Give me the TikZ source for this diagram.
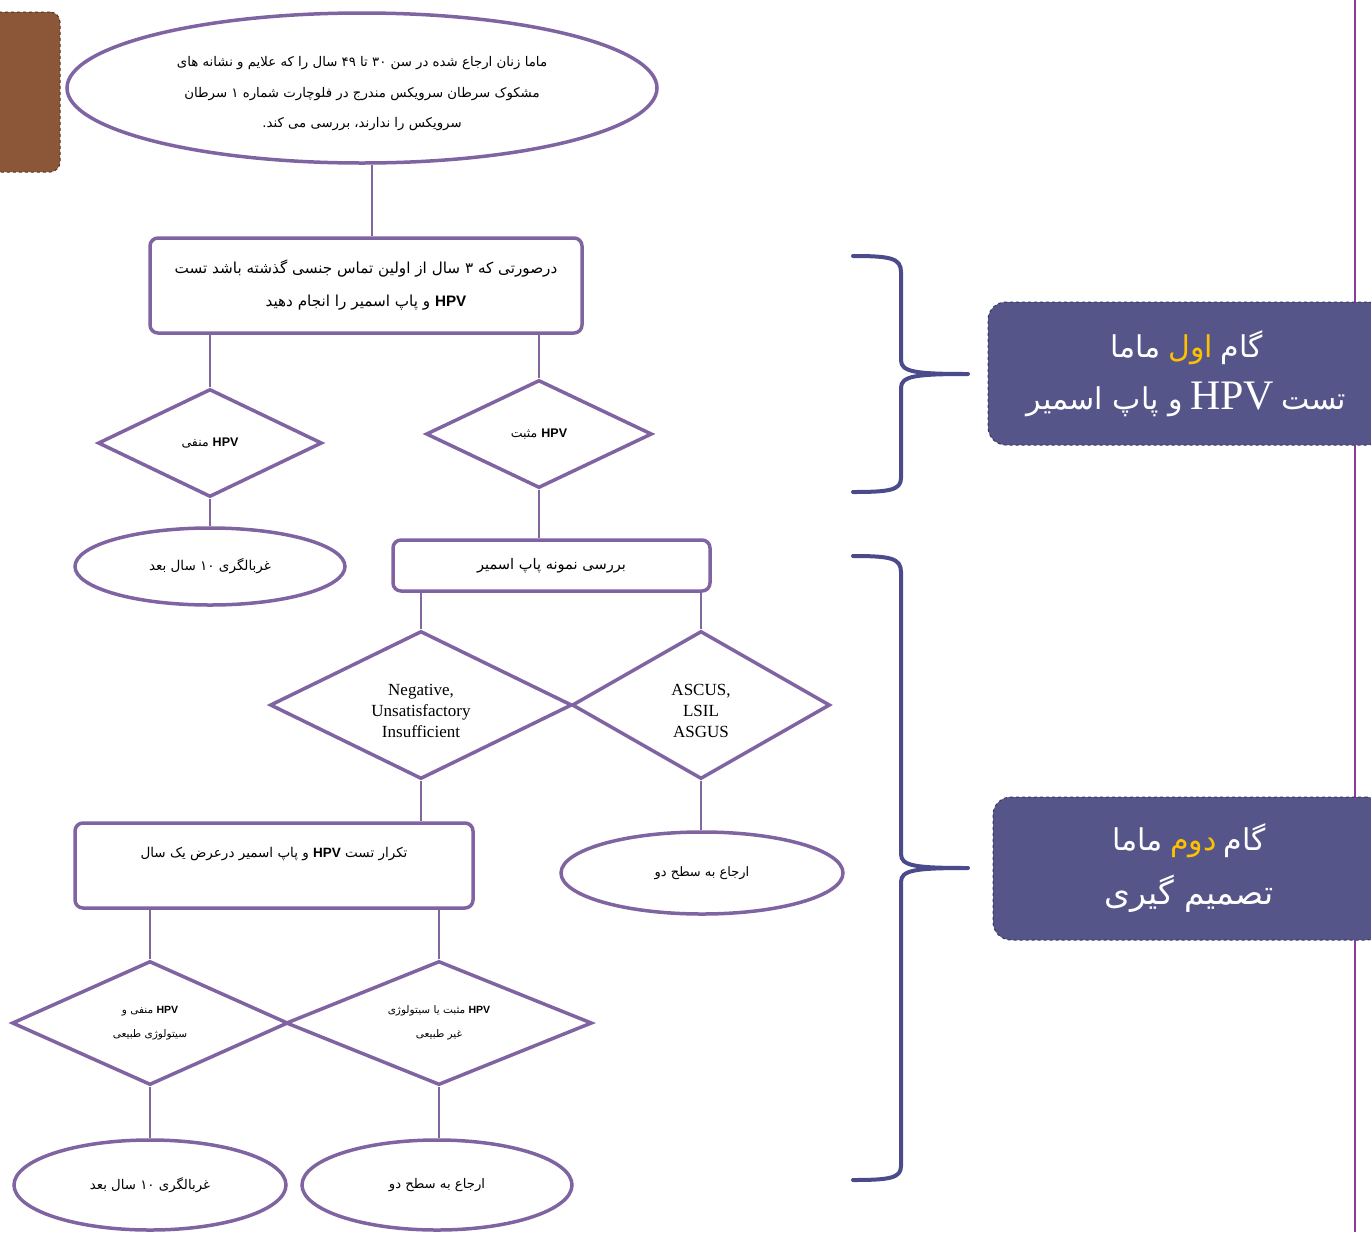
\documentclass[tikz,border=0pt]{standalone}
\usepackage{fontspec}
\setmainfont{Liberation Serif}
\newfontfamily\arabicfont[Script=Arabic]{DejaVu Sans}
\newfontfamily\latinsans{Liberation Sans}
\TeXXeTstate=1
\usetikzlibrary{shapes.geometric}
\definecolor{flowpurple}{RGB}{128,100,162}
\definecolor{bracecol}{RGB}{75,75,140}
\definecolor{stepfill}{RGB}{85,85,138}
\definecolor{stepborder}{RGB}{55,55,95}
\definecolor{stepyellow}{RGB}{255,192,0}
\definecolor{sidepurple}{RGB}{140,60,160}
\definecolor{tabbrown}{RGB}{140,86,56}
\newcommand{\fa}[1]{{\arabicfont\beginR #1\endR}}
\newcommand{\hpv}{\beginL{\latinsans\bfseries HPV}\endL}
\newcommand{\lowered}[1]{\raisebox{-6pt}[\height][\depth]{#1}}

\begin{document}
\begin{tikzpicture}[x=1pt,y=-1pt]
\useasboundingbox (0,0) rectangle (1371,1232);
\tikzset{flowellipse/.style={ellipse, draw=flowpurple, line width=3.5pt, inner sep=0pt, align=center, font=\fontsize{13}{30}\selectfont}}
\tikzset{flowbox/.style={rectangle, rounded corners=8pt, draw=flowpurple, line width=3.5pt, inner sep=0pt, align=center, font=\fontsize{14}{34}\selectfont}}
\tikzset{flowdiamond/.style={diamond, aspect=2, draw=flowpurple, line width=3.5pt, inner sep=0pt, align=center, font=\fontsize{12.5}{22}\selectfont}}
\tikzset{flowline/.style={draw=flowpurple!85!gray, line width=2.5pt}}
\tikzset{stepbox/.style={rectangle, rounded corners=18pt, fill=stepfill, draw=stepborder, dashed, line width=1pt, text=white, align=center, minimum height=143pt, font=\fontsize{30}{54}\selectfont}}
\tikzset{bracepath/.style={draw=bracecol, line width=4pt, line cap=round, line join=round}}

\node[rectangle, rounded corners=10pt, fill=tabbrown, draw=tabbrown!60!black, dashed, line width=1pt, minimum width=70pt, minimum height=160pt] (tab) at (25,92) {};

\node[flowellipse, minimum width=590pt, minimum height=150pt, font=\fontsize{13.3}{30.5}\selectfont] (top) at (362,88)
 {\lowered{\fa{ماما زنان ارجاع شده در سن ۳۰ تا ۴۹ سال را که علایم و نشانه های}}\\
  \lowered{\fa{مشکوک سرطان سرویکس مندرج در فلوچارت شماره ۱ سرطان}}\\
  \lowered{\fa{سرویکس را ندارند، بررسی می کند.}}};
\node[flowbox, minimum width=432pt, minimum height=95pt, font=\fontsize{15.2}{33}\selectfont] (step1) at (366,285.5)
 {\fa{درصورتی که ۳ سال از اولین تماس جنسی گذشته باشد تست}\\
  \fa{\hpv{} و پاپ اسمیر را انجام دهید}};
\node[flowdiamond, minimum width=224pt, minimum height=108pt] (negdia) at (210,443) {\fa{\hpv{} منفی}};
\node[flowdiamond, minimum width=226pt, minimum height=108pt] (posdia) at (539,434) {\fa{\hpv{} مثبت}};
\node[flowellipse, minimum width=270pt, minimum height=77pt, font=\fontsize{13.5}{30}\selectfont] (screen1) at (210,566.5) {\fa{غربالگری ۱۰ سال بعد}};
\node[flowbox, minimum width=317pt, minimum height=51pt, font=\fontsize{14.6}{30}\selectfont] (papbox) at (551.5,565.5) {\fa{بررسی نمونه پاپ اسمیر}};
\node[flowdiamond, minimum width=302pt, minimum height=148pt, font=\fontsize{17}{21}\selectfont] (normdia) at (421,705)
 {\lowered{Negative,}\\\lowered{Unsatisfactory}\\\lowered{Insufficient}};
\node[flowdiamond, minimum width=258pt, minimum height=148pt, font=\fontsize{17}{21}\selectfont] (abndia) at (701,705)
 {\lowered{ASCUS,}\\\lowered{LSIL}\\\lowered{ASGUS}};
\node[flowbox, minimum width=398pt, minimum height=85pt, font=\fontsize{13.5}{34}\selectfont] (repeatbox) at (274,865.5)
 {\fa{تکرار تست \hpv{} و پاپ اسمیر درعرض یک سال}\\[-8pt]\mbox{}};
\node[flowellipse, minimum width=282pt, minimum height=82pt] (refer1) at (702,873) {\fa{ارجاع به سطح دو}};
\node[flowdiamond, minimum width=276pt, minimum height=124pt, font=\fontsize{10.5}{24}\selectfont] (negdia2) at (150,1023)
 {\fa{\hpv{} منفی و}\\\fa{سیتولوژی طبیعی}};
\node[flowdiamond, minimum width=306pt, minimum height=124pt, font=\fontsize{10.5}{24}\selectfont] (posdia2) at (439,1023)
 {\fa{\hpv{} مثبت یا سیتولوژی}\\\fa{غیر طبیعی}};
\node[flowellipse, minimum width=272pt, minimum height=90pt, font=\fontsize{13.3}{30}\selectfont] (screen2) at (150,1185) {\fa{غربالگری ۱۰ سال بعد}};
\node[flowellipse, minimum width=270pt, minimum height=90pt, font=\fontsize{13.2}{30}\selectfont] (refer2) at (437,1185) {\fa{ارجاع به سطح دو}};

\draw[flowline] (step1.north) ++(6,0) coordinate (topjoin) -- (top.south -| topjoin);
\draw[flowline] (negdia.north) -- (negdia.north |- step1.south);
\draw[flowline] (posdia.north) -- (posdia.north |- step1.south);
\draw[flowline] (negdia.south) -- (screen1.north);
\draw[flowline] (posdia.south) -- (posdia.south |- papbox.north);
\draw[flowline] (normdia.north) -- (normdia.north |- papbox.south);
\draw[flowline] (abndia.north) -- (abndia.north |- papbox.south);
\draw[flowline] (normdia.south) -- (normdia.south |- repeatbox.north);
\draw[flowline] (abndia.south) -- (abndia.south |- refer1.north);
\draw[flowline] (negdia2.north) -- (negdia2.north |- repeatbox.south);
\draw[flowline] (posdia2.north) -- (posdia2.north |- repeatbox.south);
\draw[flowline] (negdia2.south) -- (screen2.north);
\draw[flowline] (posdia2.south) -- (posdia2.south |- refer2.north);

\draw[sidepurple, line width=2.5pt] (1355,0) -- (1355,1232);

\draw[bracepath] (853,256) .. controls (890,256) and (901,258) .. (901,272) -- (901,360)
 .. controls (901,372) and (915,374) .. (968,374) .. controls (915,374) and (901,376) .. (901,388)
 -- (901,478) .. controls (901,490) and (890,492) .. (853,492);
\draw[bracepath] (853,556) .. controls (890,556) and (901,558) .. (901,572) -- (901,854)
 .. controls (901,866) and (915,868) .. (968,868) .. controls (915,868) and (901,870) .. (901,882)
 -- (901,1166) .. controls (901,1178) and (890,1180) .. (853,1180);

\node[stepbox, minimum width=397pt] (stepone) at (1186.5,373.5)
 {\fa{ماما} {\color{stepyellow}\fa{اول}} \fa{گام}\\[-2pt]
  \fa{و پاپ اسمیر} {\rmfamily\fontsize{42}{54}\selectfont HPV} \fa{تست}};
\node[stepbox, minimum width=392pt] (steptwo) at (1189,868.5)
 {\fa{ماما} {\color{stepyellow}\fa{دوم}} \fa{گام}\\
  {\fontsize{33}{54}\selectfont\fa{تصمیم گیری}}};
\end{tikzpicture}
\end{document}
